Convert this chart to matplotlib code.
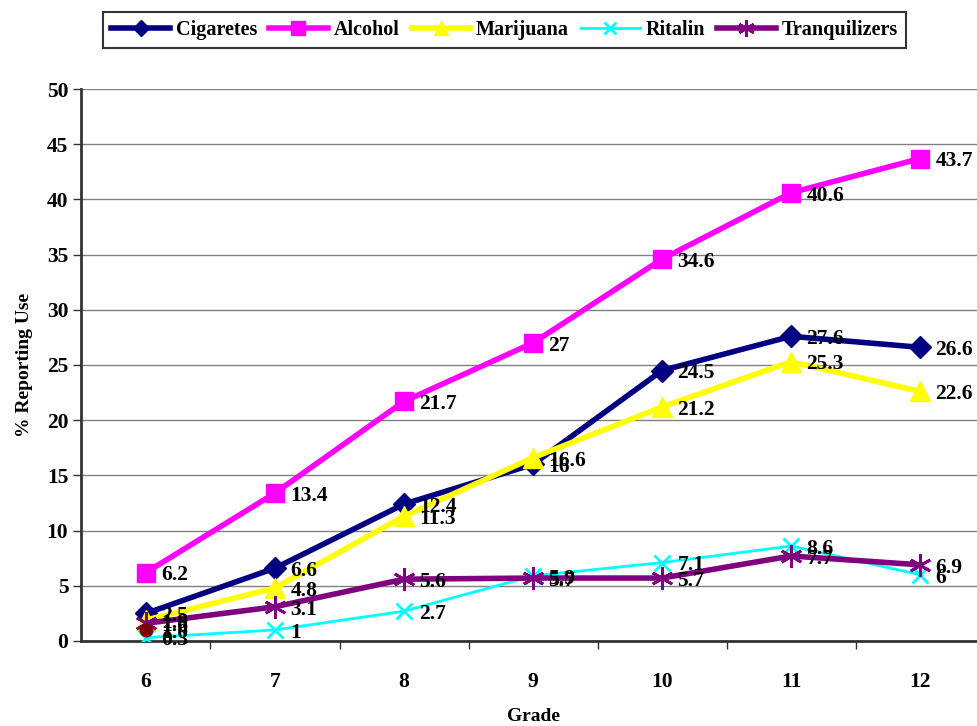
import matplotlib.pyplot as plt

# Data
grades = ['6', '7', '8', '9', '10', '11', '12']
cigarettes = [2.5, 6.6, 12.4, 16, 24.5, 27.6, 26.6]
alcohol = [6.2, 13.4, 21.7, 27, 34.6, 40.6, 43.7]
marijuana = [1.9, 4.8, 11.3, 16.6, 21.2, 25.3, 22.6]
ritalin = [0.3, 1, 2.7, 5.9, 7.1, 8.6, 6]
tranquilizers = [1.6, 3.1, 5.6, 5.7, 5.7, 7.7, 6.9]
# lone dark red point at grade 6 (no legend entry)
extra_grade = ['6']
extra_value = [1.0]

plt.rcParams['font.family'] = ['Liberation Serif', 'DejaVu Serif']
plt.rcParams['font.weight'] = 'bold'

fig = plt.figure(figsize=(9.78, 7.26), dpi=100)
ax = fig.add_axes([0.0833, 0.1171, 0.9235, 0.7603])

x = list(range(len(grades)))

series = [
    ('Cigaretes', cigarettes, '#000080', 'D', 11, 4),
    ('Alcohol', alcohol, '#FF00FF', 's', 13, 4),
    ('Marijuana', marijuana, '#FFFF00', '^', 14, 4),
    ('Ritalin', ritalin, '#00FFFF', 'x', 12, 2),
    ('Tranquilizers', tranquilizers, '#800080', (6, 2, 0), 16, 4),
]

for name, vals, color, marker, ms, lw in series:
    mew = 2 if marker in ('x',) or isinstance(marker, tuple) else 1
    ax.plot(x, vals, color=color, marker=marker, markersize=ms, linewidth=lw,
            markeredgewidth=mew, markeredgecolor=color, label=name, zorder=3)

ax.plot([grades.index(g) for g in extra_grade], extra_value, 'o',
        color='#800000', markersize=9, zorder=4)

for name, vals, color, marker, ms, lw in series:
    for xi, v in zip(x, vals):
        ax.annotate(f'{v:g}', (xi, v), xytext=(11, -2), textcoords='offset points',
                    ha='left', va='center', fontsize=15.5, fontweight='bold',
                    color='black', zorder=5)
for g, v in zip(extra_grade, extra_value):
    ax.annotate(f'{v:.1f}', (grades.index(g), v), xytext=(11, -2),
                textcoords='offset points', ha='left', va='center',
                fontsize=15.5, fontweight='bold', zorder=5)

ax.set_xlim(-0.5, len(grades) - 0.5)
ax.set_ylim(0, 50)
ax.set_yticks(range(0, 51, 5))
ax.set_xticks(x)
ax.set_xticklabels(grades)
ax.set_xticks([i + 0.5 for i in x[:-1]], minor=True)
ax.tick_params(axis='x', which='major', length=0, pad=22, labelsize=15.5)
ax.tick_params(axis='x', which='minor', length=6, width=1, color='#333333')
ax.tick_params(axis='y', length=6, width=1, color='#333333', labelsize=15.5)
for lbl in ax.get_xticklabels() + ax.get_yticklabels():
    lbl.set_fontweight('bold')

ax.grid(axis='y', color='#808080', linewidth=1)
ax.set_axisbelow(True)
for s in ['top', 'right']:
    ax.spines[s].set_visible(False)
ax.spines['left'].set_color('#333333')
ax.spines['left'].set_linewidth(2)
ax.spines['bottom'].set_color('#333333')
ax.spines['bottom'].set_linewidth(2)

ax.set_xlabel('Grade', fontsize=14, fontweight='bold', labelpad=12)
ax.set_ylabel('% Reporting Use', fontsize=14, fontweight='bold', labelpad=10)

leg = fig.legend(loc='upper center', bbox_to_anchor=(0.516, 0.998), ncol=5,
                 frameon=True, fancybox=False, edgecolor='black',
                 prop={'size': 14.5, 'weight': 'bold'}, handlelength=2.9,
                 columnspacing=0.6, handletextpad=0.3, borderpad=0.4,
                 markerscale=0.75)
leg.get_frame().set_linewidth(1.5)

fig.savefig('out.png', dpi=100)
